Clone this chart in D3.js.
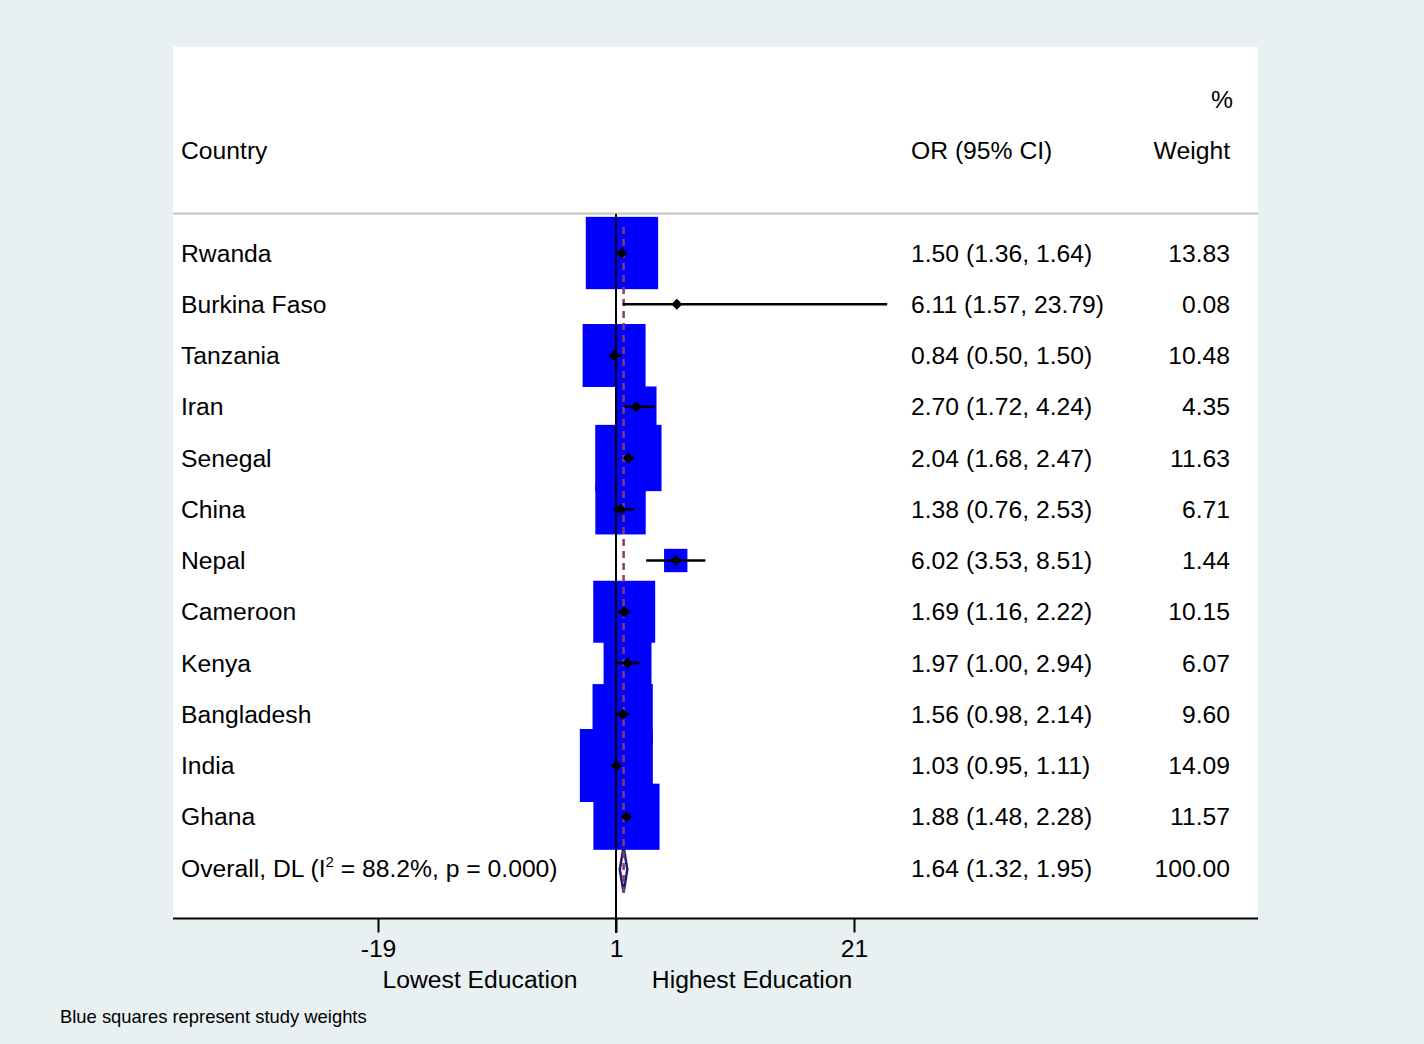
<!DOCTYPE html>
<html>
<head>
<meta charset="utf-8">
<script src="https://cdn.jsdelivr.net/npm/d3@7"></script>
<style>
  html, body { margin: 0; padding: 0; background: #e8f0f2; }
  svg { display: block; }
  text { font-family: "Liberation Sans", Arial, Helvetica, sans-serif; fill: #000; }
</style>
</head>
<body>
<svg id="chart" width="1424" height="1044"></svg>
<script>
// ---- data ----
const countries = ["Rwanda","Burkina Faso","Tanzania","Iran","Senegal","China","Nepal","Cameroon","Kenya","Bangladesh","India","Ghana"];
const orValues  = [1.50, 6.11, 0.84, 2.70, 2.04, 1.38, 6.02, 1.69, 1.97, 1.56, 1.03, 1.88];
const ciLower   = [1.36, 1.57, 0.50, 1.72, 1.68, 0.76, 3.53, 1.16, 1.00, 0.98, 0.95, 1.48];
const ciUpper   = [1.64, 23.79, 1.50, 4.24, 2.47, 2.53, 8.51, 2.22, 2.94, 2.14, 1.11, 2.28];
const weights   = [13.83, 0.08, 10.48, 4.35, 11.63, 6.71, 1.44, 10.15, 6.07, 9.60, 14.09, 11.57];
const overallLabel = "Overall, DL";
const overallStats = { i2: "88.2%", p: "0.000" };
const overallOR = 1.64, overallLower = 1.32, overallUpper = 1.95, overallWeight = "100.00";
const tickValues = [-19, 1, 21];
const leftLabel = "Lowest Education", rightLabel = "Highest Education";
const note = "Blue squares represent study weights";

// ---- layout ----
const svg = d3.select("#chart");
const W = 1424, H = 1044;
const panel = { x0: 173, x1: 1258, y0: 47, y1: 918.5 };
const fs = 24.7;

const x = d3.scaleLinear().domain([-19, 21]).range([378, 854]);
const rows = countries.concat(["__overall"]);
const y = d3.scalePoint().domain(rows).range([253, 868]);
const side = d3.scaleSqrt().domain([0, 14.09]).range([0, 73]);

const fmt = d3.format(".2f");

// background
svg.append("rect").attr("width", W).attr("height", H).attr("fill", "#e8f0f2");
svg.append("rect").attr("x", panel.x0).attr("y", panel.y0)
  .attr("width", panel.x1 - panel.x0).attr("height", panel.y1 - panel.y0)
  .attr("fill", "#ffffff");

// header
const hdrBase = 158.5;
svg.append("text").attr("x", 181).attr("y", hdrBase).attr("font-size", fs).text("Country");
svg.append("text").attr("x", 911).attr("y", hdrBase).attr("font-size", fs).text("OR (95% CI)");
svg.append("text").attr("x", 1230).attr("y", hdrBase).attr("font-size", fs).attr("text-anchor", "end").text("Weight");
svg.append("text").attr("x", 1233).attr("y", 108).attr("font-size", fs).attr("text-anchor", "end").text("%");

// separator line
svg.append("line").attr("x1", panel.x0).attr("x2", panel.x1).attr("y1", 213.5).attr("y2", 213.5)
  .attr("stroke", "#c4c4c4").attr("stroke-width", 2);

const data = countries.map((c, i) => ({ c, or: orValues[i], lo: ciLower[i], hi: ciUpper[i], w: weights[i] }));

// boxes
svg.append("g").selectAll("rect").data(data).join("rect")
  .attr("x", d => x(d.or) - side(d.w) / 2)
  .attr("y", d => y(d.c) - side(d.w) / 2)
  .attr("width", d => side(d.w))
  .attr("height", d => side(d.w))
  .attr("fill", "#0000ff");

// null line
svg.append("line").attr("x1", x(1)).attr("x2", x(1)).attr("y1", 214).attr("y2", 933)
  .attr("stroke", "#000").attr("stroke-width", 2);

// overall diamond
const oy = y("__overall") + 1.5;
const dh = 23;
svg.append("path")
  .attr("d", `M${x(overallLower)},${oy} L${x(overallOR)},${oy - dh} L${x(overallUpper)},${oy} L${x(overallOR)},${oy + dh} Z`)
  .attr("fill", "#ffffff").attr("stroke", "#1a1a78").attr("stroke-width", 2.5);

// dashed overall line
svg.append("line").attr("x1", x(overallOR)).attr("x2", x(overallOR)).attr("y1", 227).attr("y2", oy + dh)
  .attr("stroke", "#8a3d5c").attr("stroke-width", 2.5).attr("stroke-dasharray", "7,5");

// CI lines
svg.append("g").selectAll("line").data(data).join("line")
  .attr("x1", d => x(d.lo)).attr("x2", d => x(d.hi))
  .attr("y1", d => y(d.c)).attr("y2", d => y(d.c))
  .attr("stroke", "#000").attr("stroke-width", 2.6);

// point markers (diamonds)
const m = 5.5;
svg.append("g").selectAll("path").data(data).join("path")
  .attr("d", d => { const cx = x(d.or), cy = y(d.c); return `M${cx - m},${cy} L${cx},${cy - m} L${cx + m},${cy} L${cx},${cy + m} Z`; })
  .attr("fill", "#000");

// row texts
const tg = svg.append("g").attr("font-size", fs);
data.forEach(d => {
  const by = y(d.c) + 8.5;
  tg.append("text").attr("x", 181).attr("y", by).text(d.c);
  tg.append("text").attr("x", 911).attr("y", by).text(`${fmt(d.or)} (${fmt(d.lo)}, ${fmt(d.hi)})`);
  tg.append("text").attr("x", 1230).attr("y", by).attr("text-anchor", "end").text(fmt(d.w));
});
const ob = y("__overall") + 8.5;
const ot = tg.append("text").attr("x", 181).attr("y", ob);
ot.append("tspan").text(overallLabel + " (I");
ot.append("tspan").attr("font-size", 15).attr("dy", -10).text("2");
ot.append("tspan").attr("dy", 10).text(` = ${overallStats.i2}, p = ${overallStats.p})`);
tg.append("text").attr("x", 911).attr("y", ob).text(`${fmt(overallOR)} (${fmt(overallLower)}, ${fmt(overallUpper)})`);
tg.append("text").attr("x", 1230).attr("y", ob).attr("text-anchor", "end").text(overallWeight);

// axis
svg.append("line").attr("x1", panel.x0).attr("x2", panel.x1).attr("y1", 918.5).attr("y2", 918.5)
  .attr("stroke", "#000").attr("stroke-width", 2);
const axis = d3.axisBottom(x).tickValues(tickValues).tickSize(14).tickPadding(7).tickFormat(d => String(d));
const ag = svg.append("g").attr("transform", "translate(0,918.5)").call(axis);
ag.select(".domain").remove();
ag.selectAll(".tick line").attr("stroke", "#000").attr("stroke-width", 2);
ag.selectAll(".tick text").attr("font-size", fs).attr("font-family", "Liberation Sans, Arial, sans-serif").attr("fill", "#000");

svg.append("text").attr("x", x(1 - 11.43)).attr("y", 988).attr("font-size", fs).attr("text-anchor", "middle").text(leftLabel);
svg.append("text").attr("x", x(1 + 11.43)).attr("y", 988).attr("font-size", fs).attr("text-anchor", "middle").text(rightLabel);

// note
svg.append("text").attr("x", 60).attr("y", 1023).attr("font-size", 18.4).text(note);
</script>
</body>
</html>
